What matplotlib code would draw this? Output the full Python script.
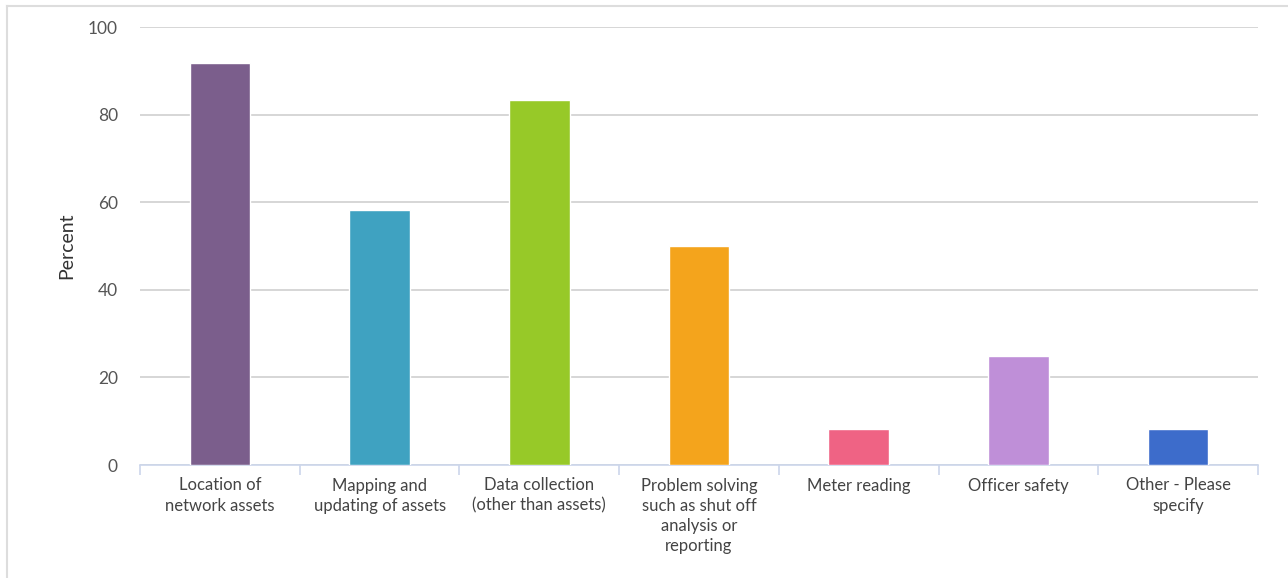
import numpy as np
import matplotlib.pyplot as plt
from matplotlib.lines import Line2D

plt.rcParams['font.family'] = ['Lato', 'DejaVu Sans']

categories = [
    "Location of\nnetwork assets",
    "Mapping and\nupdating of assets",
    "Data collection\n(other than assets)",
    "Problem solving\nsuch as shut off\nanalysis or\nreporting",
    "Meter reading",
    "Officer safety",
    "Other - Please\nspecify",
]
percent = [91.67, 58.33, 83.33, 50.0, 8.33, 25.0, 8.33]
bar_colors = ["#7b5e8c", "#3fa2c1", "#97c928", "#f4a41c",
              "#ef6384", "#bf8fd8", "#3d6ccb"]
y_ticks = [0, 20, 40, 60, 80, 100]

fig = plt.figure(figsize=(12.88, 5.78), dpi=100)
ax = fig.add_axes([140 / 1288, 1 - 465 / 578, 1118 / 1288, 438 / 578])

x = np.arange(len(categories))
ax.bar(x, percent, width=0.38, color=bar_colors, edgecolor='white',
       linewidth=1, zorder=3)

ax.set_xlim(-0.5, len(categories) - 0.5)
ax.set_ylim(0, 100)
ax.set_yticks(y_ticks)
ax.grid(axis='y', color='#d0d0d0', linewidth=1.2, zorder=0)

ax.set_xticks(x)
ax.set_xticklabels(categories, fontsize=12, color='#444444',
                   linespacing=1.32, va='top')
ax.set_xticks(np.arange(len(categories) + 1) - 0.5, minor=True)
ax.tick_params(axis='x', which='major', length=0, pad=9)
ax.tick_params(axis='x', which='minor', length=7, color='#ccd6eb', width=1.2)
ax.tick_params(axis='y', length=0, pad=16, labelsize=12.5, labelcolor='#555555')

ax.set_ylabel("Percent", fontsize=14, color='#333333', labelpad=9)

for side in ('top', 'right', 'left'):
    ax.spines[side].set_visible(False)
ax.spines['bottom'].set_color('#ccd6eb')
ax.spines['bottom'].set_linewidth(1.2)

# thin frame around the chart panel
fig.add_artist(Line2D([7 / 1288, 7 / 1288], [0, 1 - 6 / 578],
                      transform=fig.transFigure, color='#dddddd', lw=1.5))
fig.add_artist(Line2D([7 / 1288, 1], [1 - 6 / 578, 1 - 6 / 578],
                      transform=fig.transFigure, color='#dddddd', lw=1.5))

fig.savefig("out.png", dpi=100)
